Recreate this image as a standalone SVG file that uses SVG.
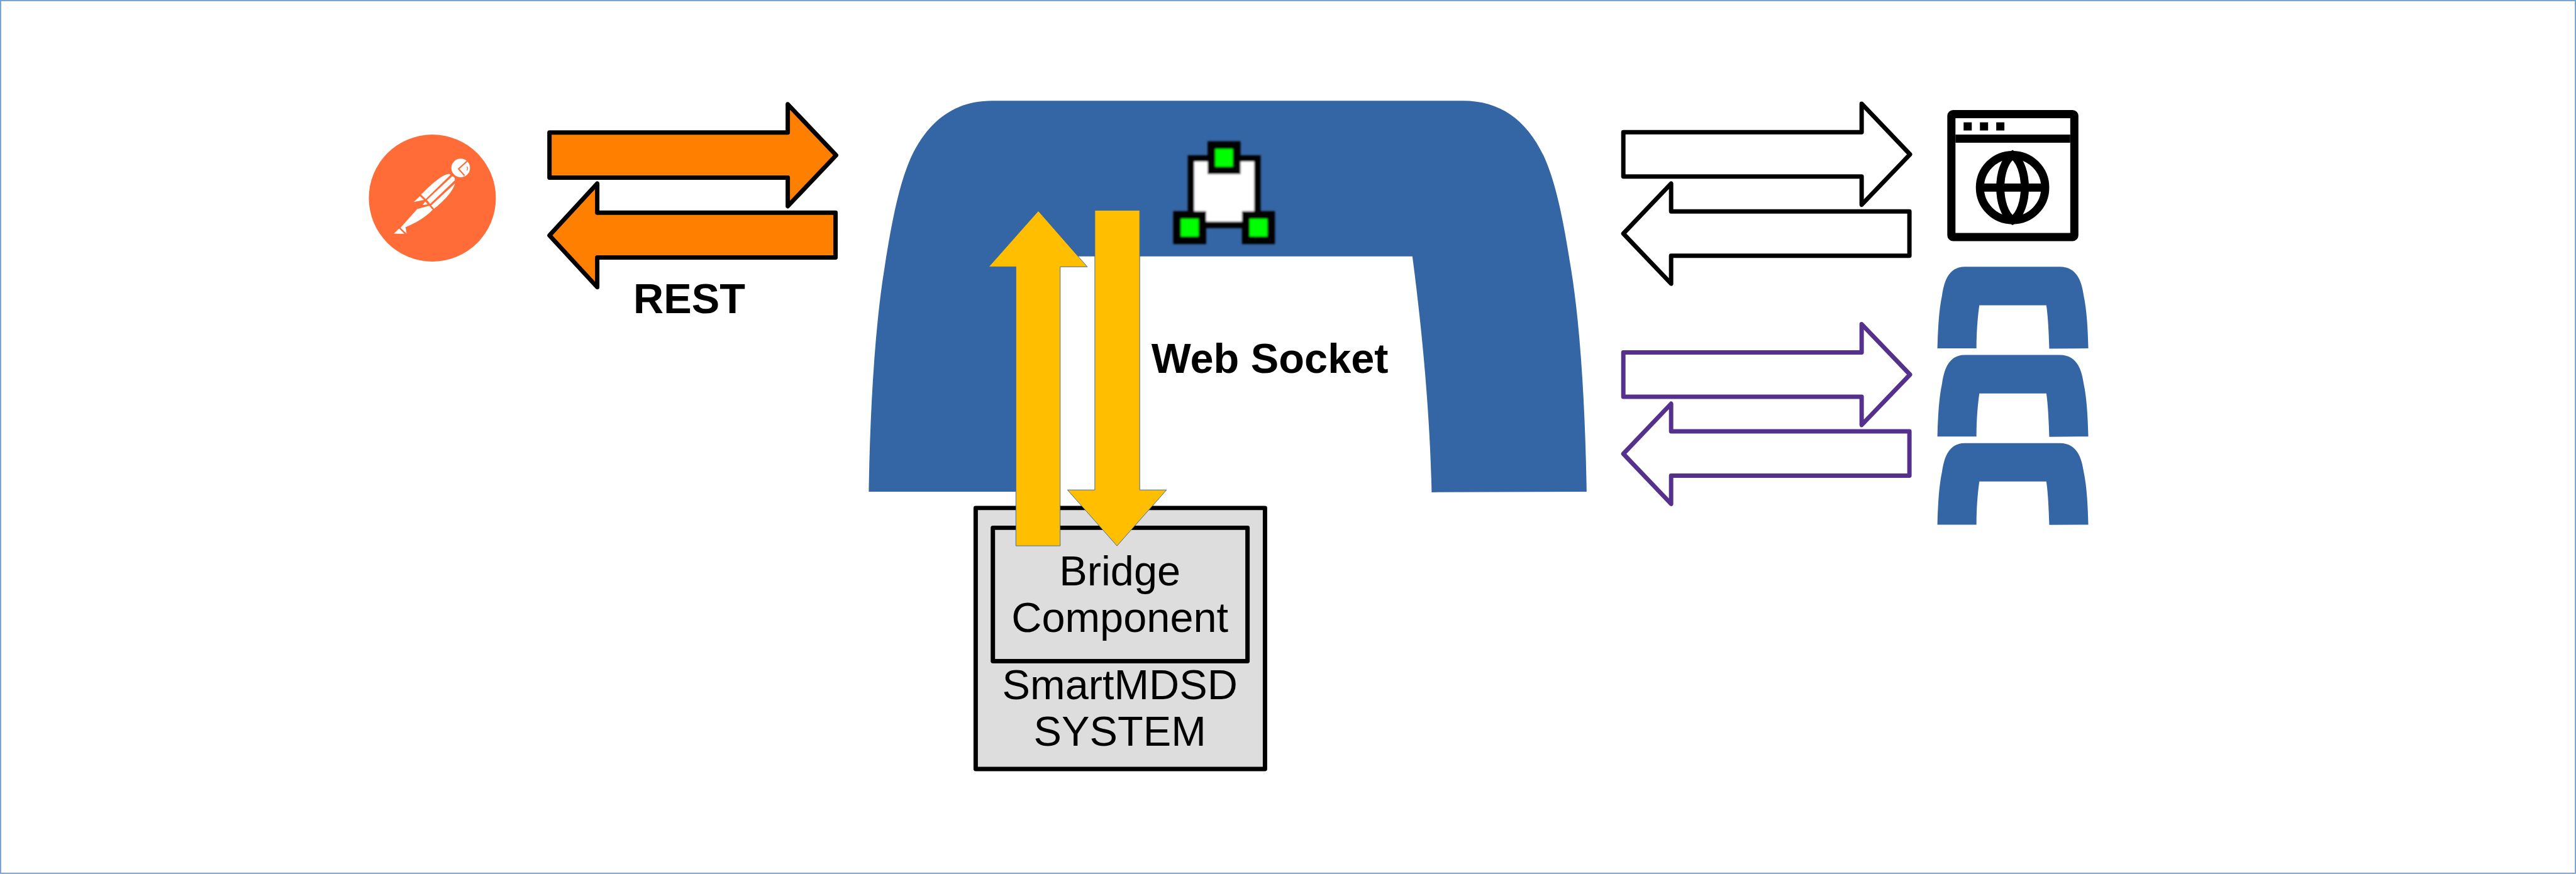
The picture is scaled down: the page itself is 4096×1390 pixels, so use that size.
<svg xmlns="http://www.w3.org/2000/svg" width="4096" height="1390" viewBox="0 0 4096 1390">
<style>
.t{font-family:"Liberation Sans",Arial,sans-serif;fill:#000;font-size:72px}
.b{font-weight:bold}
.m{text-anchor:middle}
.blue{fill:#3465a4}
.thick{stroke-width:7.5;stroke-linejoin:round;fill:#fff}
.or{fill:#ff7f00;stroke:#000}
.bk{stroke:#000}
.pu{stroke:#55308d}
.ye{fill:#ffbf00;stroke:#3465a4;stroke-width:1}
.box{fill:#ddd;stroke:#000;stroke-width:7.5;stroke-linejoin:round}
.gr{fill:#0f0;stroke:#000;stroke-width:13}
</style>
<defs>
<path id="mini" class="blue" d="M3325,598 C3326,560 3328,530 3333,507 C3336,488 3342,458 3372,458 L3535,458 C3567,458 3573,488 3576,507 C3581,530 3583,560 3584,598 L3517,598.5 C3516,570 3515,545 3512,524 L3397,524 C3394,545 3392,570 3392,598 Z"/>
<filter id="soft" x="-10%" y="-10%" width="120%" height="120%"><feGaussianBlur stdDeviation="1.8"/></filter>
</defs>
<g transform="scale(0.92649)">
<rect id="background" x="1" y="1" width="4419" height="1498" fill="#fff" stroke="#729fcf" stroke-width="2"/>

<g id="postman">
<circle cx="742" cy="340" r="109" fill="#ff6c37"/>
<g transform="translate(600,210) scale(0.3333)" fill="#fff">
<circle cx="572" cy="235" r="48"/>
<path d="M607,198 L561,240 L592,274" fill="none" stroke="#ff6c37" stroke-width="7"/>
<path d="M604,228 Q612,238 603,248" fill="none" stroke="#ff6c37" stroke-width="4"/>
<path d="M368,372 C410,330 470,270 512,265 L520,270 L392,395 Z"/>
<path d="M398,400 L528,278 C540,280 545,290 540,300 L415,420 Z"/>
<path d="M543,315 C530,360 480,410 435,445 L420,428 Z"/>
<path d="M362,380 L383,400 L330,410 Z"/>
<path d="M390,408 L402,422 L375,426 Z"/>
<path d="M348,447 L410,430 L428,450 C385,495 335,520 288,540 L294,573 L262,543 Z"/>
<path d="M228,573 L255,547 L283,575 Z"/>
</g>
</g>

<g id="broker">
<path class="blue" d="M1491,844 C1493,720 1500,570 1518,460 C1532,370 1545,310 1565,267 C1595,205 1640,173 1703,173 L2511,173 C2574,173 2619,205 2649,267 C2669,310 2682,370 2696,460 C2714,570 2721,720 2723,844 L2457,845 C2455,740 2445,600 2424,440 L1790,440 C1770,600 1760,740 1757,844 Z"/>
<g filter="url(#soft)">
<path d="M2044,272 H2158 V386 H2044 Z" fill="#fff" stroke="#000" stroke-width="11"/>
<rect class="gr" x="2079" y="249" width="43.500" height="43.500"/>
<rect class="gr" x="2020" y="369" width="43.500" height="43.500"/>
<rect class="gr" x="2138" y="369" width="43.500" height="43.500"/>
</g>
</g>

<g id="smartmdsd">
<rect class="box" x="1674.500" y="872" width="496.500" height="448"/>
<rect class="box" x="1704" y="906" width="437" height="229"/>
<text class="t m" x="1922" y="1004.500">Bridge</text>
<text class="t m" x="1922" y="1085">Component</text>
<text class="t m" x="1922" y="1200.500">SmartMDSD</text>
<text class="t m" x="1922" y="1280.500">SYSTEM</text>
</g>

<g id="browser">
<rect x="3349" y="196" width="211" height="211" rx="3" fill="#fff" stroke="#000" stroke-width="14" stroke-linejoin="round"/>
<rect x="3356" y="231" width="197" height="14" fill="#000"/>
<rect x="3370" y="210" width="14" height="14" fill="#000"/>
<rect x="3398" y="210" width="14" height="14" fill="#000"/>
<rect x="3426" y="210" width="14" height="14" fill="#000"/>
<circle cx="3454" cy="322" r="56" fill="none" stroke="#000" stroke-width="14"/>
<rect x="3398" y="315" width="112" height="14" fill="#000"/>
<path d="M3454,266 C3482,285 3482,359 3454,378 C3426,359 3426,285 3454,266 Z" fill="none" stroke="#000" stroke-width="14"/>
</g>

<g id="brokers">
<use href="#mini"/>
<use href="#mini" y="151.300"/>
<use href="#mini" y="302.600"/>
</g>

<g id="connectors">
<path class="thick or" d="M943,227.500 L1352,227.500 L1352,179 L1435,266.500 L1352,354 L1352,305 L943,305 Z"/>
<path class="thick or" d="M943,404 L1025,315 L1025,365 L1434,365 L1434,442 L1025,442 L1025,493 Z"/>
<path class="thick bk" d="M2786,227 L3195,227 L3195,178 L3278,265 L3195,351.500 L3195,303 L2786,303 Z"/>
<path class="thick bk" d="M2786,401 L2868,315 L2868,363 L3277,363 L3277,439 L2868,439 L2868,487 Z"/>
<path class="thick pu" d="M2786,605 L3195,605 L3195,556.500 L3278,643 L3195,729.500 L3195,681 L2786,681 Z"/>
<path class="thick pu" d="M2786,779 L2868,693 L2868,740.500 L3277,740.500 L3277,816.500 L2868,816.500 L2868,865 Z"/>
<path class="ye" d="M1782,362 L1866,458 L1819.500,458 L1819.500,937 L1743.500,937 L1743.500,458 L1697,458 Z"/>
<path class="ye" d="M1879,361 L1956,361 L1956,841 L2002,841 L1917,937 L1832,841 L1879,841 Z"/>
</g>

<text class="t b" x="1087" y="538">REST</text>
<text class="t b" x="1976" y="640.500">Web Socket</text>
</g>
</svg>
